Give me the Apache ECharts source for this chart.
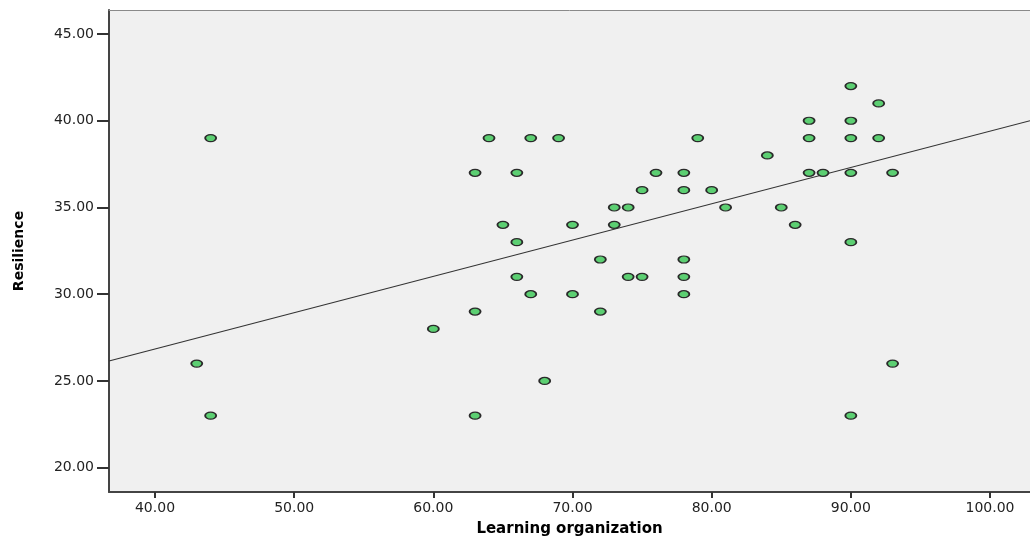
<!DOCTYPE html>
<html>
<head>
<meta charset="utf-8">
<script src="https://cdn.jsdelivr.net/npm/echarts@6/dist/echarts.min.js"></script>
<style>
html,body{margin:0;padding:0;background:#fff;overflow:hidden;}
#chart{width:1030px;height:543px;}
</style>
</head>
<body>
<div id="chart"></div>
<script>
// Learning organization (x) values
var learningOrg = [44, 43, 44, 60, 63, 63, 63, 64, 65, 66, 66, 66, 67, 67, 68, 69, 70, 70, 72, 72,
  73, 73, 74, 74, 75, 75, 76, 78, 78, 78, 78, 78, 79, 80, 81, 84, 85, 86, 87, 87, 87, 88,
  90, 90, 90, 90, 90, 90, 92, 92, 93, 93];
// Resilience (y) values
var resilience = [39, 26, 23, 28, 37, 29, 23, 39, 34, 37, 33, 31, 39, 30, 25, 39, 34, 30, 32, 29,
  35, 34, 35, 31, 36, 31, 37, 37, 36, 32, 31, 30, 39, 36, 35, 38, 35, 34, 40, 39, 37, 37,
  42, 40, 39, 37, 33, 23, 41, 39, 37, 26];
// Fit line endpoints
var fitX = [36.695, 102.873];
var fitY = [26.15, 40.0];
// Tick values
var xTicks = [40, 50, 60, 70, 80, 90, 100];
var yTicks = [20, 25, 30, 35, 40, 45];

var points = learningOrg.map(function (x, i) { return [x, resilience[i]]; });
var fitLine = fitX.map(function (x, i) { return [x, fitY[i]]; });

var font = 'DejaVu Sans';
var xMin = 36.695, xMax = 102.873;
var chart = echarts.init(document.getElementById('chart'));
chart.setOption({
  backgroundColor: '#ffffff',
  animation: false,
  grid: {
    left: 109, top: 10, right: 0, bottom: 51,
    show: true, backgroundColor: '#f0f0f0', borderWidth: 0
  },
  xAxis: [{
    type: 'value',
    min: xMin, max: xMax,
    name: 'Learning organization',
    nameLocation: 'middle',
    nameGap: 30,
    nameTextStyle: { fontFamily: font, fontWeight: 'bold', fontSize: 15, color: '#000' },
    axisLine: { show: true, onZero: false, lineStyle: { color: '#444', width: 2 } },
    axisTick: { show: true, length: 6, customValues: xTicks, lineStyle: { color: '#333', width: 2 } },
    axisLabel: {
      customValues: xTicks, margin: 9,
      fontFamily: font, fontSize: 14, color: '#222',
      formatter: function (v) { return v.toFixed(2); }
    },
    splitLine: { show: false }
  }, {
    type: 'value',
    position: 'top',
    min: xMin, max: xMax,
    axisLine: { show: true, onZero: false, lineStyle: { color: '#8a8a8a', width: 1 } },
    axisTick: { show: false },
    axisLabel: { show: false },
    splitLine: { show: false }
  }],
  yAxis: {
    type: 'value',
    min: 18.599, max: 46.383,
    name: 'Resilience',
    nameLocation: 'middle',
    nameGap: 83,
    nameRotate: 90,
    nameTextStyle: { fontFamily: font, fontWeight: 'bold', fontSize: 14, color: '#000' },
    axisLine: { show: true, onZero: false, lineStyle: { color: '#444', width: 2 } },
    axisTick: { show: true, length: 12, customValues: yTicks, lineStyle: { color: '#333', width: 2 } },
    axisLabel: {
      customValues: yTicks, margin: 15,
      fontFamily: font, fontSize: 14, color: '#222',
      formatter: function (v) { return v.toFixed(2); }
    },
    splitLine: { show: false }
  },
  series: [
    {
      type: 'line',
      data: fitLine,
      symbol: 'none',
      lineStyle: { color: '#333', width: 1.2 },
      z: 2
    },
    {
      type: 'scatter',
      data: points,
      symbol: 'circle',
      symbolSize: [11, 7],
      itemStyle: { color: '#5ccf72', borderColor: '#2a2a2a', borderWidth: 1.5, opacity: 1 },
      z: 3
    }
  ]
});
</script>
</body>
</html>
